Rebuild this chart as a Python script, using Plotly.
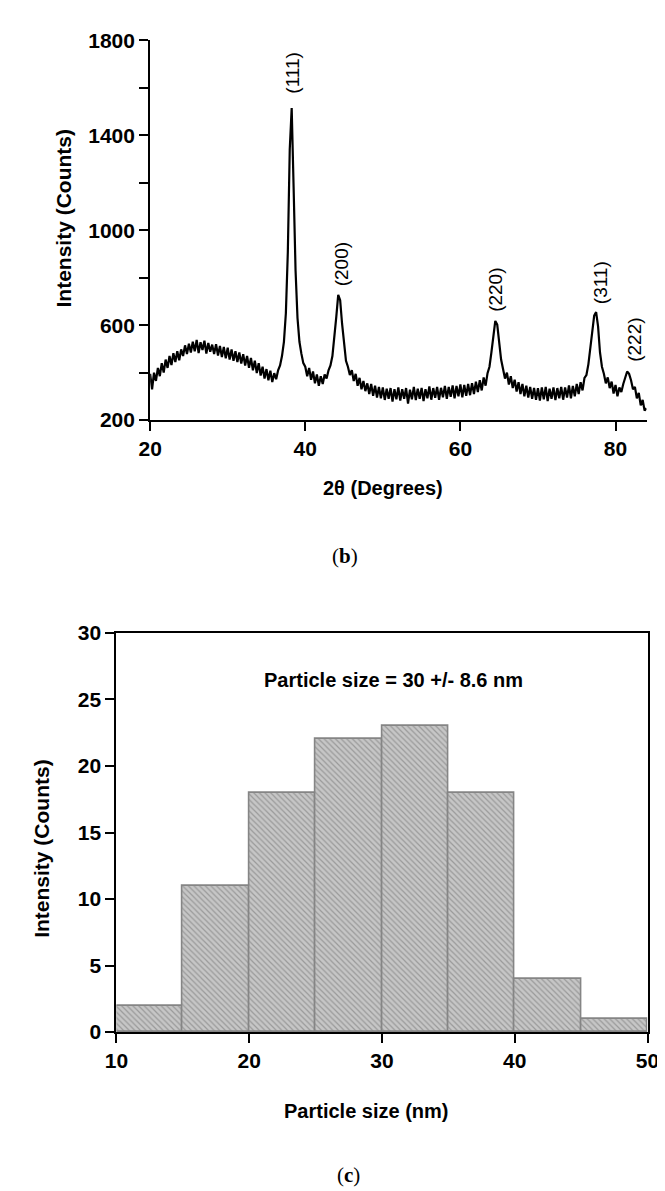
import plotly.graph_objects as go

# ---------------- data ----------------
# XRD pattern: intensity sampled every 0.25 degree from 2theta = 20 to 84
xrd_start = 20.0
xrd_step = 0.25
xrd_intensity = [
    395, 330, 400, 365, 420, 385, 440, 400, 455, 420, 470, 432, 482, 445, 490, 452, 498,
    470, 515, 478, 522, 485, 530, 490, 538, 482, 528, 495, 535, 480, 525, 488, 518,
    478, 520, 472, 512, 466, 508, 460, 505, 455, 498, 450, 490, 445, 485, 438, 478,
    430, 470, 420, 462, 410, 450, 398, 440, 388, 425, 375, 415, 368, 408, 360, 398,
    372, 410, 430, 470, 530, 650, 905, 1340, 1515, 1180, 830, 630, 530, 480, 440, 425,
    385, 420, 370, 405, 355, 392, 345, 385, 352, 392, 375, 410, 430, 470, 540, 635,
    728, 705, 605, 510, 450, 425, 390, 410, 365, 395, 345, 378, 330, 365, 322, 355,
    310, 352, 302, 345, 295, 340, 292, 338, 285, 332, 290, 335, 278, 330, 288, 338,
    282, 330, 290, 335, 270, 328, 288, 340, 284, 332, 290, 336, 280, 330, 292, 342,
    286, 335, 294, 340, 285, 336, 296, 344, 290, 340, 298, 346, 292, 344, 300, 350,
    296, 348, 302, 352, 305, 356, 310, 362, 318, 368, 325, 380, 345, 398, 425, 485,
    560, 618, 602, 525, 455, 415, 375, 400, 350, 385, 335, 370, 320, 360, 310, 352,
    300, 345, 295, 340, 290, 336, 285, 335, 282, 338, 288, 340, 280, 332, 290, 338,
    284, 335, 292, 340, 286, 338, 295, 346, 292, 344, 300, 352, 310, 360, 325, 378,
    390, 435, 505, 585, 640, 655, 595, 485, 425, 395, 355, 380, 335, 362, 312, 348,
    300, 338, 318, 352, 385, 405, 395, 368, 330, 340, 292, 315, 262, 285, 240, 250,
]
peak_labels = ["(111)", "(200)", "(220)", "(311)", "(222)"]
peak_label_x = [38.4, 44.6, 64.6, 78.0, 82.5]
peak_label_y = [1663, 856, 749, 781, 538]
xrd_xticks = [20, 40, 60, 80]
xrd_yticks = [200, 400, 600, 800, 1000, 1200, 1400, 1600, 1800]
xrd_yticklabels = ["200", "", "600", "", "1000", "", "1400", "", "1800"]

# Particle size histogram
bin_centers = [12.5, 17.5, 22.5, 27.5, 32.5, 37.5, 42.5, 47.5]
bin_counts = [2, 11, 18, 22, 23, 18, 4, 1]
bin_width = 5
hist_xticks = [10, 20, 30, 40, 50]
hist_yticks = [0, 5, 10, 15, 20, 25, 30]

# ---------------- figure ----------------
W, H = 665, 1191
SANS = "Liberation Sans, Arial, sans-serif"
SERIF = "Liberation Serif, Times New Roman, serif"


def px_x(p):
    return p / W


def px_y(p):
    return 1 - p / H


fig = go.Figure()

fig.add_trace(go.Scatter(
    y=xrd_intensity, x0=xrd_start, dx=xrd_step, mode="lines",
    line=dict(color="black", width=2.2), xaxis="x", yaxis="y", showlegend=False,
))

fig.add_trace(go.Bar(
    x=bin_centers, y=bin_counts, width=bin_width, xaxis="x2", yaxis="y2",
    marker=dict(
        color="#c2c2c2",
        line=dict(color="#858585", width=1.6),
        pattern=dict(shape="\\", fgcolor="#9a9a9a", bgcolor="#c6c6c6",
                     size=4, solidity=0.3, fillmode="replace"),
    ),
    showlegend=False,
))

axis_common = dict(
    showgrid=False, zeroline=False, showline=True, linecolor="black", linewidth=2,
    ticks="outside", tickcolor="black", tickwidth=2, ticklen=9,
    tickfont=dict(family=SANS, size=21, color="black", weight="bold"),
)

fig.update_layout(
    width=W, height=H,
    margin=dict(l=0, r=0, t=0, b=0),
    paper_bgcolor="white", plot_bgcolor="white",
    xaxis=dict(axis_common, domain=[px_x(135), px_x(650)], range=[20, 84],
               tickvals=xrd_xticks, anchor="y"),
    yaxis=dict(axis_common, domain=[px_y(408), px_y(20.7)], range=[200, 1800],
               tickvals=xrd_yticks, ticktext=xrd_yticklabels, anchor="x"),
    xaxis2=dict(axis_common, domain=[px_x(100), px_x(651)], range=[10, 50],
                tickvals=hist_xticks, anchor="y2", mirror=True),
    yaxis2=dict(axis_common, domain=[px_y(1032), px_y(625)], range=[0, 30],
                tickvals=hist_yticks, anchor="x2", mirror=True),
    bargap=0,
)

annotations = []
for t, xv, yv in zip(peak_labels, peak_label_x, peak_label_y):
    annotations.append(dict(
        x=xv, y=yv, xref="x", yref="y", text=t, showarrow=False, textangle=-90,
        font=dict(family=SANS, size=19, color="black"),
        xanchor="center", yanchor="middle",
    ))


def paper_text(text, x, y, size, family=SANS, bold=True, angle=0):
    return dict(
        x=px_x(x), y=px_y(y), xref="paper", yref="paper", text=text,
        showarrow=False, textangle=angle,
        font=dict(family=family, size=size, color="black",
                  weight="bold" if bold else "normal"),
        xanchor="center", yanchor="middle",
    )


annotations += [
    paper_text("Intensity (Counts)", 45, 202, 21, angle=-90),
    paper_text("2θ (Degrees)", 377, 477, 20),
    paper_text("(<b>b</b>)", 337, 547, 21, family=SERIF, bold=False),
    paper_text("Particle size = 30 +/- 8.6 nm", 387, 673, 20),
    paper_text("Intensity (Counts)", 23, 845, 21, angle=-90),
    paper_text("Particle size (nm)", 359, 1112, 20),
    paper_text("(<b>c</b>)", 341, 1178, 21, family=SERIF, bold=False),
]
fig.update_layout(annotations=annotations)

fig.write_html("out.html")
